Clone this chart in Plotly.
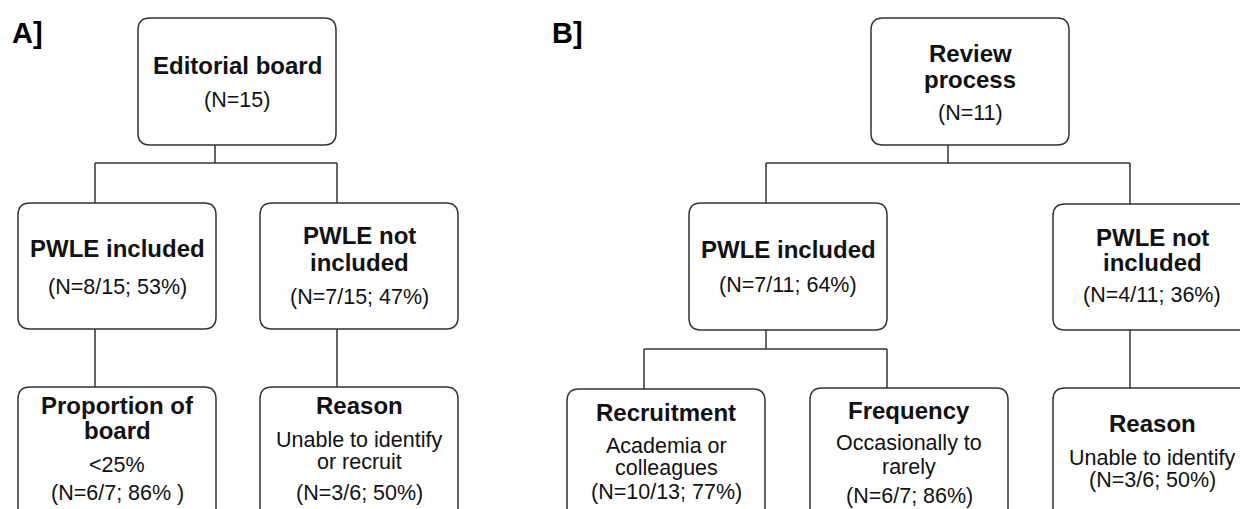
import plotly.graph_objects as go

# ---------------- data (text content of the flowcharts) ----------------
panel_labels = ["A]", "B]"]

node_ids = ["A0", "A1", "A2", "A3", "A4", "B0", "B1", "B2", "B3", "B4", "B5"]
node_titles = [
    ["Editorial board"],
    ["PWLE included"],
    ["PWLE not", "included"],
    ["Proportion of", "board"],
    ["Reason"],
    ["Review", "process"],
    ["PWLE included"],
    ["PWLE not", "included"],
    ["Recruitment"],
    ["Frequency"],
    ["Reason"],
]
node_details = [
    [],
    [],
    [],
    ["<25%"],
    ["Unable to identify", "or recruit"],
    [],
    [],
    [],
    ["Academia or", "colleagues"],
    ["Occasionally to", "rarely"],
    ["Unable to identify"],
]
node_counts = [
    "(N=15)",
    "(N=8/15; 53%)",
    "(N=7/15; 47%)",
    "(N=6/7; 86% )",
    "(N=3/6; 50%)",
    "(N=11)",
    "(N=7/11; 64%)",
    "(N=4/11; 36%)",
    "(N=10/13; 77%)",
    "(N=6/7; 86%)",
    "(N=3/6; 50%)",
]
edges = [("A0", "A1"), ("A0", "A2"), ("A1", "A3"), ("A2", "A4"),
         ("B0", "B1"), ("B0", "B2"), ("B1", "B3"), ("B1", "B4"), ("B2", "B5")]

# ---------------- layout (positions in page pixels) ----------------
W, H = 1240, 509
BOX_W = 198
RADIUS = 12
STEM = 77          # connector offset from a box's left edge
box_pos = {        # left, top, bottom
    "A0": (138, 18, 145), "A1": (18, 203, 329), "A2": (260, 203, 329),
    "A3": (18, 387, 540), "A4": (260, 387, 540),
    "B0": (871, 18, 145), "B1": (689, 203, 330), "B2": (1053, 204, 330),
    "B3": (567, 389, 540), "B4": (810, 388, 540), "B5": (1053, 388, 540),
}
line_y = {         # y of each text line: titles..., details..., count
    "A0": [65, 100],
    "A1": [248, 287],
    "A2": [235, 262, 297],
    "A3": [405, 430, 465, 493],
    "A4": [405, 440, 462, 493],
    "B0": [53, 79, 113],
    "B1": [249, 285],
    "B2": [237, 262, 295],
    "B3": [412, 446, 468, 492],
    "B4": [410, 443, 467, 496],
    "B5": [423, 458, 480],
}
branch_y = {"A0": 163, "B0": 163, "B1": 349}
label_pos = [(27, 33), (567, 33)]

LINE_COL = "#333333"
TEXT_COL = "#111111"
FONT = "Liberation Sans, Arial, sans-serif"
BOLD_SIZE = 24
REG_SIZE = 21.5


def rounded_rect(x0, y0, x1, y1, r):
    return (f"M {x0+r},{y0} L {x1-r},{y0} Q {x1},{y0} {x1},{y0+r} "
            f"L {x1},{y1-r} Q {x1},{y1} {x1-r},{y1} L {x0+r},{y1} "
            f"Q {x0},{y1} {x0},{y1-r} L {x0},{y0+r} Q {x0},{y0} {x0+r},{y0} Z")


fig = go.Figure()
shapes = []
annotations = []

# boxes and text
for nid, titles, details, count in zip(node_ids, node_titles, node_details, node_counts):
    left, top, bottom = box_pos[nid]
    shapes.append(dict(type="path", xref="x", yref="y",
                       path=rounded_rect(left, top, left + BOX_W, bottom, RADIUS),
                       line=dict(color=LINE_COL, width=1.5), fillcolor="white",
                       layer="above"))
    cx = left + BOX_W / 2
    lines = [(t, True) for t in titles] + [(d, False) for d in details] + [(count, False)]
    for (txt, bold), y in zip(lines, line_y[nid]):
        annotations.append(dict(
            x=cx, y=y, xref="x", yref="y", showarrow=False, borderpad=0,
            text=f"<b>{txt}</b>" if bold else txt.replace("<", "&lt;"),
            font=dict(family=FONT, size=BOLD_SIZE if bold else REG_SIZE, color=TEXT_COL),
            xanchor="center", yanchor="middle"))

# connectors (elbow lines)
children = {}
for p, c in edges:
    children.setdefault(p, []).append(c)
for p, cs in children.items():
    pl, pt, pb = box_pos[p]
    px = pl + STEM
    if len(cs) == 1:
        cl, ct, _ = box_pos[cs[0]]
        shapes.append(dict(type="line", xref="x", yref="y", x0=cl + STEM, x1=cl + STEM,
                           y0=pb, y1=ct, line=dict(color=LINE_COL, width=1.5)))
    else:
        by = branch_y[p]
        shapes.append(dict(type="line", xref="x", yref="y", x0=px, x1=px, y0=pb, y1=by,
                           line=dict(color=LINE_COL, width=1.5)))
        xs = [box_pos[c][0] + STEM for c in cs]
        shapes.append(dict(type="line", xref="x", yref="y", x0=min(xs), x1=max(xs),
                           y0=by, y1=by, line=dict(color=LINE_COL, width=1.5)))
        for c in cs:
            cl, ct, _ = box_pos[c]
            shapes.append(dict(type="line", xref="x", yref="y", x0=cl + STEM, x1=cl + STEM,
                               y0=by, y1=ct, line=dict(color=LINE_COL, width=1.5)))

# panel labels
for lab, (lx, ly) in zip(panel_labels, label_pos):
    annotations.append(dict(x=lx, y=ly, xref="x", yref="y", showarrow=False,
                            text=f"<b>{lab}</b>",
                            font=dict(family=FONT, size=29, color="#000000"),
                            xanchor="center", yanchor="middle"))

fig.update_layout(
    width=W, height=H,
    margin=dict(l=0, r=0, t=0, b=0),
    paper_bgcolor="white", plot_bgcolor="white",
    xaxis=dict(range=[0, W], visible=False, fixedrange=True),
    yaxis=dict(range=[H, 0], visible=False, fixedrange=True),
    shapes=shapes, annotations=annotations, showlegend=False,
)

fig.write_html("out.html", config={"displayModeBar": False},
               post_script="document.body.style.margin='0';document.body.style.overflow='hidden';")
